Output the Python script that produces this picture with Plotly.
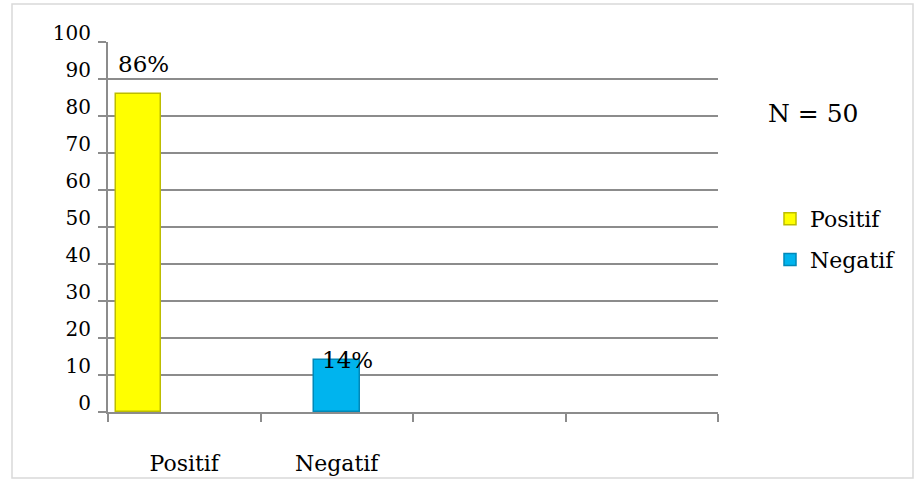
import plotly.graph_objects as go

categories = ["Positif", "Negatif"]
values = [86, 14]
labels = ["86%", "14%"]
colors = ["#FFFF00", "#00B4EE"]
edge_colors = ["#BDBD00", "#0088B8"]
slot_positions = [0, 1]
offsets = [-0.45, -0.15]
y_ticks = list(range(0, 101, 10))
note = "N = 50"

FONT = "DejaVu Serif"

fig = go.Figure()
for i, name in enumerate(categories):
    fig.add_trace(go.Bar(
        x=[slot_positions[i]], y=[values[i]], name=name,
        width=0.3, offset=offsets[i],
        marker=dict(color=colors[i], line=dict(color=edge_colors[i], width=1.5)),
        legendgroup=name,
    ))

fig.add_annotation(x=slot_positions[0] + offsets[0], y=values[0] + 8, text=labels[0],
                   showarrow=False, xanchor="left", yanchor="middle",
                   font=dict(family=FONT, size=23, color="#000"))
fig.add_annotation(x=slot_positions[1] + 0.07, y=values[1] + 0.0, text=labels[1],
                   showarrow=False, xanchor="center", yanchor="middle",
                   font=dict(family=FONT, size=23, color="#000"))

fig.add_annotation(xref="paper", yref="paper", x=(813 - 108) / 610, y=(412 - 113) / 370,
                   text=note, showarrow=False, xanchor="center", yanchor="middle",
                   font=dict(family=FONT, size=25, color="#000"))

fig.add_shape(type="rect", xref="paper", yref="paper",
              x0=(12 - 108) / 610, x1=(913 - 108) / 610,
              y0=(412 - 478) / 370, y1=(412 - 4) / 370,
              line=dict(color="#D9D9D9", width=1.5), fillcolor="rgba(0,0,0,0)", layer="below")

fig.update_layout(
    width=919, height=481,
    margin=dict(l=108, r=201, t=42, b=69),
    paper_bgcolor="white", plot_bgcolor="white",
    font=dict(family=FONT, color="#000"),
    showlegend=True,
    legend=dict(x=(770 - 108) / 610, y=(412 - 198) / 370, xanchor="left", yanchor="top",
                font=dict(family=FONT, size=22, color="#000"),
                tracegroupgap=9, bgcolor="rgba(0,0,0,0)"),
    xaxis=dict(range=[-0.5, 3.5], tickvals=slot_positions, ticktext=categories,
               ticks="", showgrid=False, zeroline=False, automargin=False,
               showline=True, linecolor="#8C8C8C", linewidth=2,
               tickfont=dict(family=FONT, size=22, color="#000"),
               ticklabelstandoff=31,
               minor=dict(tick0=-0.5, dtick=1, ticks="outside", ticklen=8,
                          tickcolor="#8C8C8C", tickwidth=2, showgrid=False)),
    yaxis=dict(range=[0, 100], tickvals=y_ticks, ticks="outside", ticklen=8,
               tickcolor="#8C8C8C", tickwidth=2, automargin=False,
               showgrid=True, gridcolor="#8C8C8C", gridwidth=1.5,
               zeroline=False, showline=True, linecolor="#8C8C8C", linewidth=2,
               tickfont=dict(family=FONT, size=20, color="#000"),
               ticklabelshift=-9, ticklabelstandoff=3),
    bargap=0,
)

fig.write_html("out.html")
